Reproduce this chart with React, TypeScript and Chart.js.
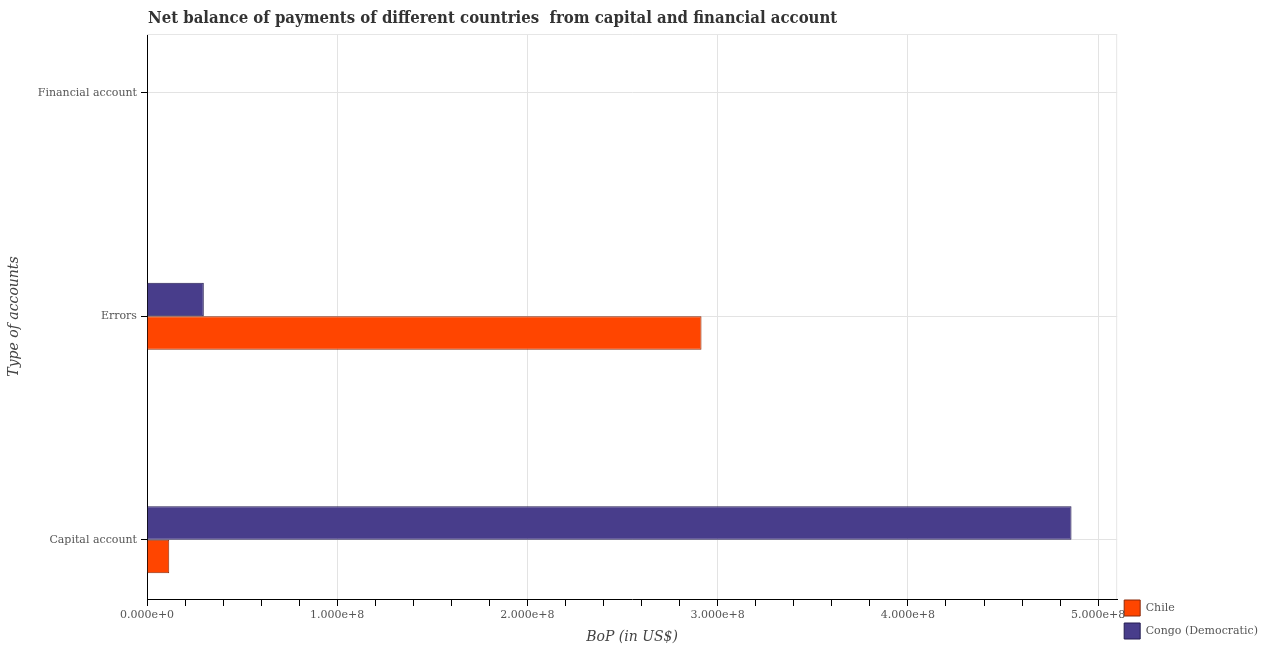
import React, { useEffect, useRef } from "react";
import { Chart, registerables } from "chart.js";

Chart.register(...registerables);

// ---- data ----
const categories = ["Financial account", "Errors", "Capital account"];
const seriesNames = ["Chile", "Congo (Democratic)"];
const chileValues = [0, 291500000, 11700000];
const congoValues = [0, 29860000, 486000000];
const xMax = 510000000;
const xStep = 20000000;
const xMajorStep = 100000000;
const xLastTick = 500000000;
const chartTitle = "Net balance of payments of different countries  from capital and financial account";
const xTitle = "BoP (in US$)";
const yTitle = "Type of accounts";

const SERIF = "'DejaVu Serif', serif";

const frameAndTitle = {
  id: "frameAndTitle",
  beforeDatasetsDraw(chart: any) {
    const { ctx, chartArea } = chart;
    ctx.save();
    ctx.strokeStyle = "#e6e6e6";
    ctx.lineWidth = 1;
    ctx.beginPath();
    ctx.moveTo(chartArea.left, chartArea.top + 0.5);
    ctx.lineTo(chartArea.right, chartArea.top + 0.5);
    ctx.moveTo(chartArea.right - 0.5, chartArea.top);
    ctx.lineTo(chartArea.right - 0.5, chartArea.bottom);
    ctx.stroke();
    ctx.restore();
  },
  afterDraw(chart: any) {
    const { ctx, chartArea } = chart;
    ctx.save();
    ctx.font = "bold 16.6px 'DejaVu Serif Condensed', 'DejaVu Serif', serif";
    ctx.fillStyle = "#333";
    ctx.textBaseline = "middle";
    ctx.textAlign = "left";
    ctx.fillText(chartTitle, chartArea.left + 1, 19);
    ctx.restore();
  },
};

const isMajor = (v: number) => Math.round(v) % xMajorStep === 0;

export default function App() {
  const canvasRef = useRef<HTMLCanvasElement | null>(null);

  useEffect(() => {
    if (!canvasRef.current) return;
    const chart = new Chart(canvasRef.current, {
      type: "bar",
      data: {
        labels: categories,
        datasets: [
          {
            label: seriesNames[1],
            data: congoValues,
            backgroundColor: "#483D8B",
            borderColor: "#241d52",
            borderWidth: 1,
          },
          {
            label: seriesNames[0],
            data: chileValues,
            backgroundColor: "#FF4500",
            borderColor: "#8b2a0a",
            borderWidth: 1,
          },
        ],
      },
      options: {
        indexAxis: "y",
        animation: false,
        responsive: true,
        maintainAspectRatio: false,
        categoryPercentage: 0.3,
        barPercentage: 1,
        layout: { padding: { top: 34, right: 5, bottom: 4, left: 0 } },
        plugins: {
          title: { display: false },
          tooltip: { enabled: false },
          legend: {
            display: true,
            position: "right",
            align: "end",
            reverse: true,
            labels: {
              boxWidth: 16,
              boxHeight: 16,
              padding: 7,
              color: "#555",
              font: { family: SERIF, size: 11 },
            },
          },
        },
        scales: {
          x: {
            type: "linear",
            min: 0,
            max: xMax,
            afterBuildTicks: (s: any) => {
              const t: any[] = [];
              for (let v = 0; v <= xLastTick; v += xStep) t.push({ value: v });
              s.ticks = t;
            },
            ticks: {
              autoSkip: false,
              maxRotation: 0,
              padding: 3,
              color: "#555",
              font: { family: SERIF, size: 11 },
              callback: (v: any) => (isMajor(Number(v)) ? Number(v).toExponential(3) : ""),
            },
            grid: {
              color: (c: any) => (c.tick && isMajor(c.tick.value) ? "#e3e3e3" : "rgba(0,0,0,0)"),
              tickColor: "#000",
              tickLength: 7,
            },
            border: { color: "#000", width: 1 },
            title: {
              display: true,
              text: xTitle,
              color: "#444",
              font: { family: SERIF, size: 14, style: "italic" },
              padding: { top: 4, bottom: 0 },
            },
          },
          y: {
            type: "category",
            offset: false,
            afterBuildTicks: (s: any) => {
              s._startValue = -0.2635;
              s._valueRange = 2.529;
            },
            afterFit: (s: any) => {
              s.width = 147;
            },
            ticks: {
              color: "#555",
              font: { family: SERIF, size: 11 },
              padding: 4,
            },
            grid: {
              offset: false,
              color: "#e3e3e3",
              tickColor: "#000",
              tickLength: 6,
            },
            border: { color: "#000", width: 1 },
            title: {
              display: true,
              text: yTitle,
              color: "#444",
              font: { family: SERIF, size: 14, style: "italic" },
              padding: { top: 6, bottom: 4 },
            },
          },
        },
      },
      plugins: [frameAndTitle],
    });
    return () => chart.destroy();
  }, []);

  return (
    <div style={{ position: "absolute", left: 0, top: 0, width: 1273, height: 650 }}>
      <canvas ref={canvasRef} />
    </div>
  );
}
